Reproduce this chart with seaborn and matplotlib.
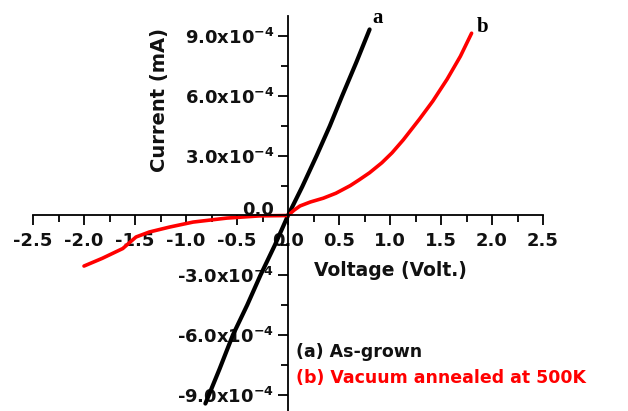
import numpy as np
import pandas as pd
import matplotlib
matplotlib.use("Agg")
import matplotlib.pyplot as plt
import seaborn as sns
from matplotlib.ticker import FixedLocator, MultipleLocator
from matplotlib.transforms import ScaledTranslation

# ---- data ----
volt_a = [-0.81, -0.67, -0.54, -0.40, -0.27, -0.13, 0.0, 0.14, 0.28, 0.41, 0.53, 0.67, 0.80]
curr_a = [-9.45e-4, -7.7e-4, -6.0e-4, -4.5e-4, -3.0e-4, -1.5e-4, 0.0,
          1.45e-4, 3.0e-4, 4.5e-4, 6.0e-4, 7.7e-4, 9.35e-4]

volt_b = [-2.0, -1.82, -1.62, -1.49, -1.36, -1.16, -0.93, -0.60, -0.28, 0.0,
          0.06, 0.118, 0.22, 0.346, 0.47, 0.61, 0.70, 0.80, 0.92, 1.02, 1.13, 1.29, 1.42,
          1.56, 1.69, 1.80]
curr_b = [-2.54e-4, -2.15e-4, -1.66e-4, -1.08e-4, -0.83e-4, -0.58e-4, -0.33e-4,
          -0.13e-4, -0.02e-4, 0.0,
          0.27e-4, 0.48e-4, 0.68e-4, 0.87e-4, 1.12e-4, 1.5e-4, 1.8e-4, 2.15e-4, 2.65e-4,
          3.15e-4, 3.8e-4, 4.85e-4, 5.75e-4, 6.85e-4, 8.0e-4, 9.16e-4]

x_ticks = [-2.5, -2.0, -1.5, -1.0, -0.5, 0.0, 0.5, 1.0, 1.5, 2.0, 2.5]
y_ticks = [-9e-4, -6e-4, -3e-4, 0.0, 3e-4, 6e-4, 9e-4]
y_tick_labels = [r"-9.0x10$^{\mathbf{-4}}$", r"-6.0x10$^{\mathbf{-4}}$", r"-3.0x10$^{\mathbf{-4}}$",
                 "0.0", r"3.0x10$^{\mathbf{-4}}$",
                 r"6.0x10$^{\mathbf{-4}}$", r"9.0x10$^{\mathbf{-4}}$"]

label_a = "(a) As-grown"
label_b = "(b) Vacuum annealed at 500K"

df_a = pd.DataFrame({"V": volt_a, "I": curr_a})
df_b = pd.DataFrame({"V": volt_b, "I": curr_b})

sns.set_style("white")
plt.rcParams["font.family"] = ["DejaVu Sans"]
plt.rcParams["font.weight"] = "bold"
plt.rcParams["mathtext.fontset"] = "dejavusans"

W, H = 628, 411
fig = plt.figure(figsize=(W / 100, H / 100), dpi=100)
# axes: x from px 33 to 543, y top(1e-3) at px 16.5, bottom(-1e-3) at px 414.5
ax = fig.add_axes([33 / W, (H - 414.5) / H, 510 / W, 398 / H])

sns.lineplot(data=df_a, x="V", y="I", ax=ax, color="black", linewidth=3.0,
             estimator=None, sort=False)
sns.lineplot(data=df_b, x="V", y="I", ax=ax, color="#ff0000", linewidth=2.6,
             estimator=None, sort=False)

ax.set_xlim(-2.5, 2.5)
ax.set_ylim(-1e-3, 1e-3)

for s in ["top", "right"]:
    ax.spines[s].set_visible(False)
ax.spines["left"].set_position(("data", 0))
ax.spines["bottom"].set_position(("data", 0))
for s in ["left", "bottom"]:
    ax.spines[s].set_linewidth(1.3)
    ax.spines[s].set_color("black")

ax.xaxis.set_major_locator(FixedLocator(x_ticks))
ax.xaxis.set_minor_locator(MultipleLocator(0.25))
ax.set_xticklabels([f"{v:.1f}" for v in x_ticks])
ax.yaxis.set_major_locator(FixedLocator(y_ticks))
ax.yaxis.set_minor_locator(MultipleLocator(1.5e-4))
ax.set_yticklabels(y_tick_labels)

ax.tick_params(axis="both", which="both", bottom=True, left=True, top=False, right=False)
ax.tick_params(axis="both", which="major", direction="out", length=7, width=1.3,
               color="black", labelsize=13, labelcolor="#111111")
ax.tick_params(axis="both", which="minor", direction="out", length=5, width=1.3,
               color="black")
ax.tick_params(axis="x", which="major", pad=5)
ax.tick_params(axis="y", which="major", pad=3)
for t in ax.get_xticklabels() + ax.get_yticklabels():
    t.set_fontweight("bold")

# lift the "0.0" current label above the voltage axis, as in the reference
zero_lbl = ax.get_yticklabels()[3]
zero_lbl.set_transform(zero_lbl.get_transform() + ScaledTranslation(0, 8 / 100, fig.dpi_scale_trans))

ax.set_xlabel("Voltage (Volt.)", fontsize=13.5, fontweight="bold", color="#111111")
ax.set_ylabel("Current (mA)", fontsize=14, fontweight="bold", color="#111111")
ax.xaxis.set_label_coords((390 - 33) / 510, (414.5 - 270) / 398)
ax.yaxis.set_label_coords((160 - 33) / 510, (414.5 - 100) / 398)
ax.xaxis.label.set_va("center")
ax.yaxis.label.set_va("center")

# curve tags
ax.text(0.88, 9.9e-4, "a", family="Liberation Serif", fontweight="bold",
        fontsize=15, color="black", ha="center", va="center")
ax.text(1.91, 9.45e-4, "b", family="Liberation Serif", fontweight="bold",
        fontsize=15, color="black", ha="center", va="center")

# legend-like texts
fig.text(296 / W, 1 - 352 / H, label_a, fontsize=12.5, fontweight="bold",
         color="#111111", ha="left", va="center")
fig.text(296 / W, 1 - 378 / H, label_b, fontsize=12.5, fontweight="bold",
         color="#ff0000", ha="left", va="center")

ax.set_facecolor("white")
fig.patch.set_facecolor("white")
fig.savefig("out.png", dpi=100)
